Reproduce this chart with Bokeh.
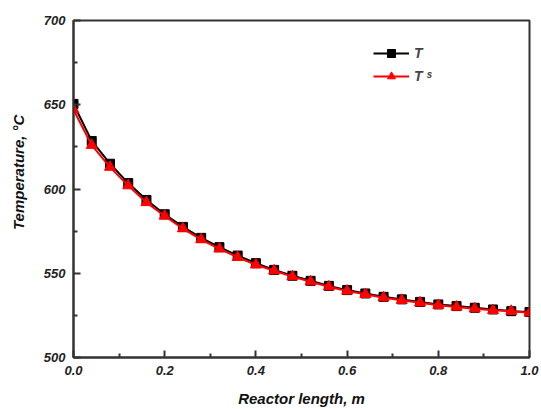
from bokeh.plotting import figure
from bokeh.models import Legend, LegendItem, Range1d, FixedTicker, PrintfTickFormatter
from bokeh.embed import file_html
from bokeh.resources import INLINE

x = [0.00, 0.04, 0.08, 0.12, 0.16, 0.20, 0.24, 0.28, 0.32, 0.36, 0.40, 0.44, 0.48,
     0.52, 0.56, 0.60, 0.64, 0.68, 0.72, 0.76, 0.80, 0.84, 0.88, 0.92, 0.96, 1.00]
T = [650.5, 628.5, 615.0, 603.5, 593.5, 585.0, 577.5, 571.0, 565.5, 560.5, 556.0, 552.0, 548.5,
     545.5, 542.5, 540.0, 538.0, 536.0, 534.5, 533.0, 531.5, 530.5, 529.5, 528.5, 527.5, 527.0]
Ts = [647.0, 626.0, 613.0, 602.0, 592.0, 584.0, 576.5, 570.0, 564.5, 559.5, 555.0, 551.5, 548.0,
      545.0, 542.0, 539.5, 537.5, 535.5, 534.0, 532.5, 531.0, 530.0, 529.0, 528.0, 527.5, 526.5]

FONT = "Liberation Sans"

p = figure(width=541, height=409, output_backend="svg", toolbar_location=None,
           x_range=Range1d(0, 1.0), y_range=Range1d(500, 700),
           min_border_left=73, min_border_right=12, min_border_top=20, min_border_bottom=51)

p.xgrid.visible = False
p.ygrid.visible = False
p.outline_line_color = "#333333"
p.outline_line_width = 2
p.background_fill_color = "white"

l1 = p.line(x, T, line_color="black", line_width=2)
s1 = p.scatter(x, T, marker="square", size=9, fill_color="black", line_color="black")
l2 = p.line(x, Ts, line_color="#ff0000", line_width=2)
s2 = p.scatter(x, Ts, marker="triangle", size=11, fill_color="#ff0000", line_color="#ff0000")

for ax in (p.xaxis[0], p.yaxis[0]):
    ax.axis_line_width = 2
    ax.axis_line_color = "#333333"
    ax.major_tick_line_color = "#333333"
    ax.minor_tick_line_color = "#333333"
    ax.major_tick_line_width = 2
    ax.minor_tick_line_width = 2
    ax.major_tick_in = 7
    ax.major_tick_out = 0
    ax.minor_tick_in = 4
    ax.minor_tick_out = 0
    ax.major_label_text_font = FONT
    ax.major_label_text_font_style = "bold italic"
    ax.major_label_text_font_size = "13px"
    ax.major_label_text_color = "#222222"
    ax.axis_label_text_font = FONT
    ax.axis_label_text_font_style = "bold italic"
    ax.axis_label_text_font_size = "15px"
    ax.axis_label_text_color = "#111111"

p.xaxis[0].ticker = FixedTicker(ticks=[0.0, 0.2, 0.4, 0.6, 0.8, 1.0],
                                minor_ticks=[0.1, 0.3, 0.5, 0.7, 0.9])
p.xaxis[0].formatter = PrintfTickFormatter(format="%.1f")
p.yaxis[0].ticker = FixedTicker(ticks=[500, 550, 600, 650, 700],
                                minor_ticks=[525, 575, 625, 675])
p.xaxis[0].major_label_standoff = 8
p.xaxis[0].axis_label = "Reactor length, m"
p.xaxis[0].axis_label_standoff = 12
p.yaxis[0].major_label_standoff = 8
p.yaxis[0].axis_label = "\u00a0" * 8 + "Temperature, \u00b0C"
p.yaxis[0].axis_label_standoff = 14

legend = Legend(items=[LegendItem(label="T", renderers=[l1, s1]),
                       LegendItem(label="T \u02e2", renderers=[l2, s2])],
                location=(300, 271))
legend.border_line_color = None
legend.background_fill_alpha = 0
legend.padding = 0
legend.margin = 0
legend.spacing = 3
legend.glyph_width = 36
legend.glyph_height = 20
legend.label_standoff = 5
legend.label_text_font = FONT
legend.label_text_font_style = "bold italic"
legend.label_text_font_size = "14px"
p.add_layout(legend)

open("out.html", "w").write(file_html(p, INLINE))
